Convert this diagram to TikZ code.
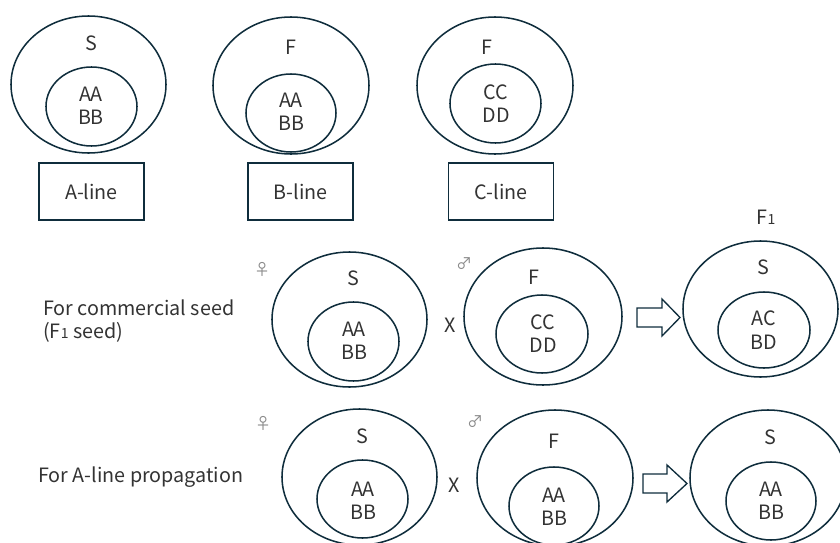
\documentclass[tikz,border=0pt]{standalone}
\usepackage{fontspec}
\setmainfont{Noto Sans CJK JP}
\usetikzlibrary{shapes.geometric}
\definecolor{edge}{HTML}{0F2D3C}
\definecolor{txt}{HTML}{333333}
\definecolor{sym}{HTML}{8A8A8A}
\begin{document}
\begin{tikzpicture}[x=0.75pt,y=-0.75pt,
  oval/.style={ellipse,draw=edge,line width=1.15pt,inner sep=0pt},
  lbl/.style={text=txt,font=\fontsize{14.8}{17.5}\selectfont,align=center,inner sep=0pt},
  linebox/.style={draw=edge,line width=1.15pt,minimum width=78.75pt,minimum height=42.75pt,inner sep=0pt,text=txt,font=\fontsize{14.8}{17.5}\selectfont},
  sex/.style={text=sym,font=\fontsize{12}{12}\selectfont,inner sep=0pt},
  blockarrow/.style={draw=edge,line width=1.0pt,fill=white}]
\useasboundingbox (0,0) rectangle (840,543);
\clip (0,0) rectangle (840,543);
\newcommand{\sub}[1]{{\fontsize{10.5}{10.5}\selectfont #1}}
% ---------- top row ----------
\node[oval,minimum width=116.25pt,minimum height=102.75pt] (o1) at (88.5,84.5) {};
\node[oval,minimum width=68.25pt,minimum height=59.25pt] (i1) at (91.5,106.5) {};
\node[lbl] (t1s) at (91,43) {S};
\node[lbl] (t1g) at (91,106) {AA\\BB};
\node[linebox] (bA) at (91.5,191.5) {A-line};

\node[oval,minimum width=117pt,minimum height=102.75pt] (o2) at (291,85.5) {};
\node[oval,minimum width=67.5pt,minimum height=58.5pt] (i2) at (291,113) {};
\node[lbl] (t2f) at (291,47) {F};
\node[lbl] (t2g) at (291,112) {AA\\BB};
\node[linebox] (bB) at (300.5,191.5) {B-line};

\node[oval,minimum width=117pt,minimum height=102.75pt] (o3) at (495,85.5) {};
\node[oval,minimum width=68.25pt,minimum height=59.25pt] (i3) at (495.5,103.5) {};
\node[lbl] (t3f) at (487,47) {F};
\node[lbl] (t3g) at (496,103.5) {CC\\DD};
\node[linebox] (bC) at (501,191.5) {C-line};

% ---------- middle row ----------
\node[lbl,anchor=west,align=left] (lc) at (43,321) {For commercial seed\\(F\sub{1} seed)};
\node[sex] (fem1) at (262,269) {♀};
\node[oval,minimum width=116.25pt,minimum height=101.25pt] (o4) at (349.5,319.5) {};
\node[oval,minimum width=68.25pt,minimum height=59.25pt] (i4) at (353.5,341.5) {};
\node[lbl] (t4s) at (353,278) {S};
\node[lbl] (t4g) at (354,341) {AA\\BB};
\node[lbl] (x1) at (450,325) {X};
\node[sex] (mal1) at (464,264) {♂};
\node[oval,minimum width=118.5pt,minimum height=102.75pt] (o5) at (543,316.5) {};
\node[oval,minimum width=69pt,minimum height=58.5pt] (i5) at (542,334) {};
\node[lbl] (t5f) at (534,277) {F};
\node[lbl] (t5g) at (543,333.5) {CC\\DD};
\coordinate (a1) at (637,317.5);
\draw[blockarrow] (a1) ++(0,-9.5) -- ++(25,0) -- ++(0,-9) -- ++(18,18.5) -- ++(-18,18.5) -- ++(0,-9) -- ++(-25,0) -- cycle;
\node[lbl] (f1) at (766,217) {F\sub{1}};
\node[oval,minimum width=116.25pt,minimum height=102pt] (o6) at (760.5,309) {};
\node[oval,minimum width=69pt,minimum height=57pt] (i6) at (764,330) {};
\node[lbl] (t6s) at (763,267) {S};
\node[lbl] (t6g) at (764,330) {AC\\BD};

% ---------- bottom row ----------
\node[lbl,anchor=west] (lp) at (38,477) {For A-line propagation};
\node[sex] (fem2) at (263,423) {♀};
\node[oval,minimum width=116.25pt,minimum height=102pt] (o7) at (359.5,477) {};
\node[oval,minimum width=68.25pt,minimum height=58.5pt] (i7) at (362.5,499) {};
\node[lbl] (t7s) at (362,436) {S};
\node[lbl] (t7g) at (363,500.5) {AA\\BB};
\node[lbl] (x2) at (454,485) {X};
\node[sex] (mal2) at (475,422) {♂};
\node[oval,minimum width=117pt,minimum height=102pt] (o8) at (555,478) {};
\node[oval,minimum width=67.5pt,minimum height=58.5pt] (i8) at (554,506) {};
\node[lbl] (t8f) at (554,441) {F};
\node[lbl] (t8g) at (554,506.5) {AA\\BB};
\coordinate (a2) at (643,483.5);
\draw[blockarrow] (a2) ++(0,-9.5) -- ++(24,0) -- ++(0,-9) -- ++(20,18.5) -- ++(-20,18.5) -- ++(0,-9) -- ++(-24,0) -- cycle;
\node[oval,minimum width=117pt,minimum height=102pt] (o9) at (768,478) {};
\node[oval,minimum width=67.5pt,minimum height=58.5pt] (i9) at (771,501) {};
\node[lbl] (t9s) at (770,437) {S};
\node[lbl] (t9g) at (771,501) {AA\\BB};
\end{tikzpicture}
\end{document}
